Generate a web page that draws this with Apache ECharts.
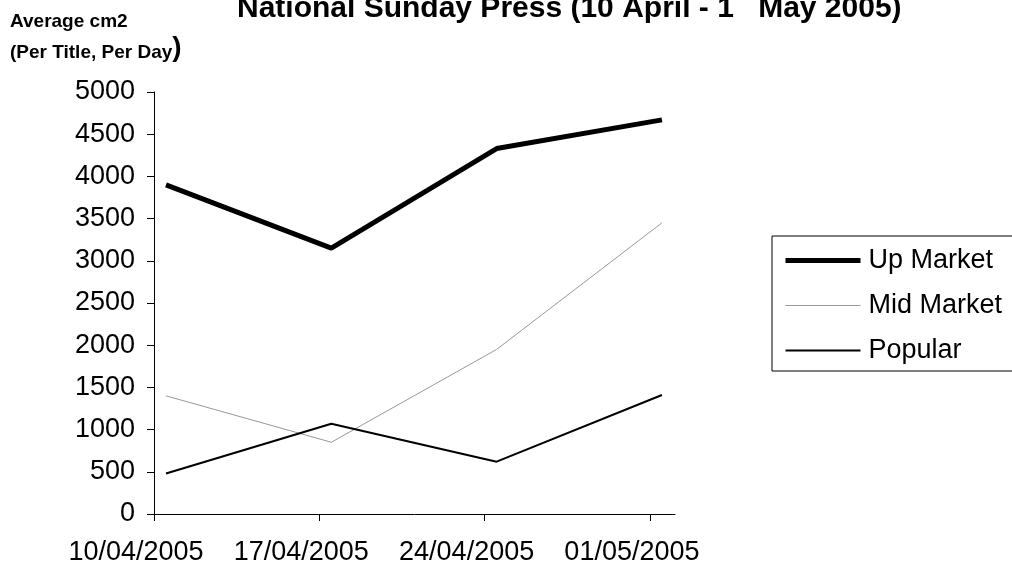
<!DOCTYPE html>
<html>
<head>
<meta charset="utf-8">
<script src="https://cdn.jsdelivr.net/npm/echarts@6/dist/echarts.min.js"></script>
<style>
  html, body { margin: 0; padding: 0; background: #fff; }
  #chart { width: 1012px; height: 569px; }
</style>
</head>
<body>
<div id="chart"></div>
<script>
// ---- data ----
const dates = ['10/04/2005', '17/04/2005', '24/04/2005', '01/05/2005'];
const upMarket = [3900, 3150, 4330, 4670];
const midMarket = [1400, 850, 1950, 3450];
const popular = [480, 1070, 620, 1410];
const seriesNames = ['Up Market', 'Mid Market', 'Popular'];
const yTicks = [0, 500, 1000, 1500, 2000, 2500, 3000, 3500, 4000, 4500, 5000];

const FONT = '"Liberation Sans", Arial, sans-serif';
const tickOffset = -0.0726; // ticks sit slightly left of the data points
const tickVals = dates.map((d, i) => i + tickOffset);
const toPairs = arr => arr.map((v, i) => [i, v]);
const styles = [
  { color: '#000', width: 5 },
  { color: '#999', width: 1 },
  { color: '#000', width: 2 }
];

const chart = echarts.init(document.getElementById('chart'), null, { renderer: 'canvas' });

chart.setOption({
  animation: false,
  backgroundColor: '#ffffff',
  textStyle: { fontFamily: FONT },
  title: {
    text: '{a|National Sunday Press (10 April - 1}{s|st}{a| May 2005)}',
    left: 232,
    top: -12,
    textStyle: {
      rich: {
        a: { fontFamily: FONT, fontWeight: 'bold', fontSize: 30, color: '#000', lineHeight: 32 },
        s: { fontFamily: FONT, fontWeight: 'bold', fontSize: 18, color: '#000', verticalAlign: 'top', lineHeight: 32, padding: [-22, 0, 0, 0] }
      }
    }
  },
  graphic: [
    {
      type: 'text', left: 10, top: 12,
      style: { text: 'Average cm2', font: 'bold 19px ' + FONT, fill: '#000' }
    },
    {
      type: 'text', left: 10, top: 34,
      style: {
        text: '{a|(Per Title, Per Day}{b|)}',
        rich: {
          a: { font: 'bold 19px ' + FONT, fill: '#000', verticalAlign: 'bottom' },
          b: { font: 'bold 28px ' + FONT, fill: '#000', verticalAlign: 'bottom' }
        }
      }
    }
  ],
  legend: {
    orient: 'vertical',
    left: 772,
    top: 236,
    padding: [11, 40, 7, 11],
    itemWidth: 75,
    itemHeight: 12,
    itemGap: 18,
    borderColor: '#000',
    borderWidth: 1,
    data: seriesNames.map((n, i) => ({
      name: n,
      itemStyle: { opacity: 0 },
      lineStyle: { color: styles[i].color, width: styles[i].width }
    })),
    textStyle: { fontFamily: FONT, fontSize: 27, color: '#000', padding: [0, 0, 0, 3] }
  },
  grid: { left: 154, right: 337, top: 92, bottom: 55, containLabel: false },
  xAxis: {
    type: 'value',
    min: tickOffset,
    max: 3.079,
    splitLine: { show: false },
    axisLine: { show: true, onZero: false, lineStyle: { color: '#000', width: 1 } },
    axisTick: { show: true, length: 7, customValues: tickVals, lineStyle: { color: '#000' } },
    axisLabel: {
      customValues: tickVals,
      formatter: v => dates[Math.round(v - tickOffset)],
      fontFamily: FONT, fontSize: 27, color: '#000',
      margin: 25,
      padding: [0, 36, 0, 0]
    }
  },
  yAxis: {
    type: 'value',
    min: 0, max: 5000, interval: 500,
    splitLine: { show: false },
    axisLine: { show: true, onZero: false, lineStyle: { color: '#000', width: 1 } },
    axisTick: { show: true, length: 7, lineStyle: { color: '#000' } },
    axisLabel: {
      fontFamily: FONT, fontSize: 27, color: '#000', margin: 19,
      formatter: v => (yTicks.indexOf(v) >= 0 ? String(v) : '')
    }
  },
  series: seriesNames.map((n, i) => ({
    name: n, type: 'line',
    data: toPairs([upMarket, midMarket, popular][i]),
    symbol: 'none',
    lineStyle: { color: styles[i].color, width: styles[i].width },
    itemStyle: { color: styles[i].color }
  }))
});
</script>
</body>
</html>
